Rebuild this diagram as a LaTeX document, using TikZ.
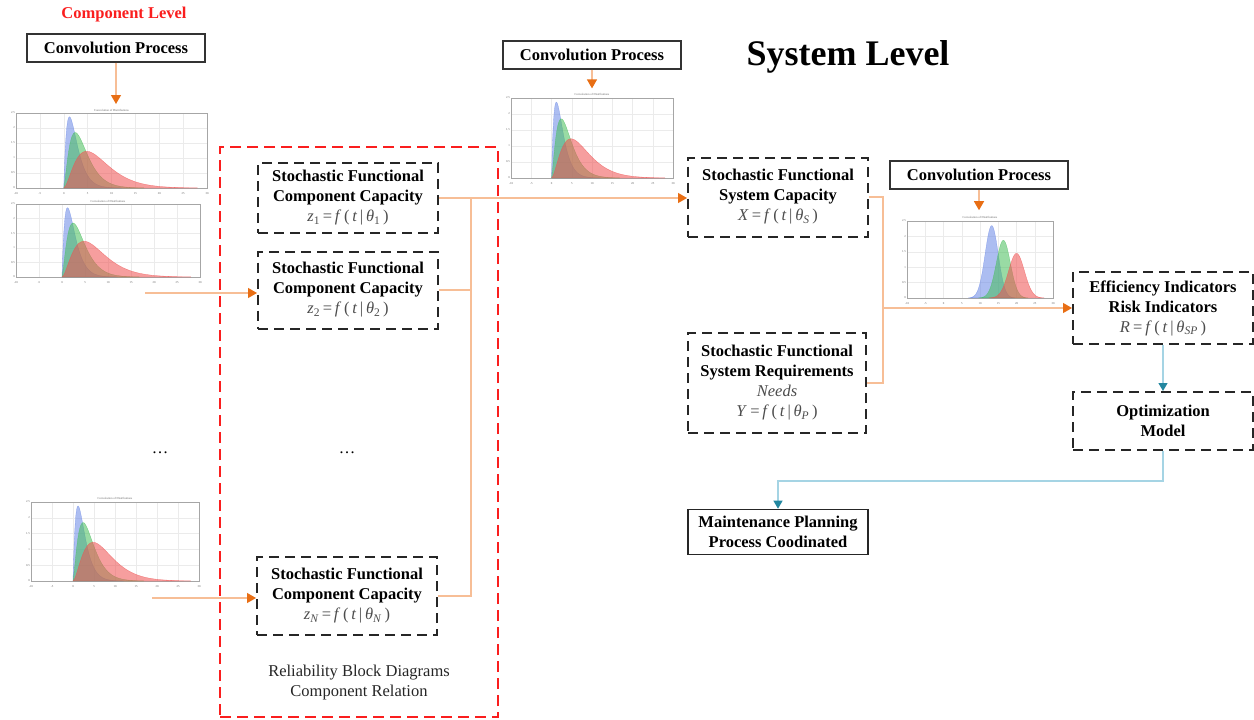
\documentclass[tikz,border=0pt]{standalone}
\usepackage{fontspec}
\setmainfont{Liberation Serif}
\usetikzlibrary{positioning, arrows.meta}
\definecolor{feedline}{RGB}{247,190,150}
\definecolor{feedtip}{RGB}{232,110,20}
\definecolor{planline}{RGB}{165,212,228}
\definecolor{plantip}{RGB}{35,135,160}
\definecolor{levelred}{RGB}{250,30,30}
\definecolor{bluecurve}{RGB}{105,135,230}
\definecolor{greencurve}{RGB}{70,190,90}
\definecolor{redcurve}{RGB}{240,80,80}
\tikzstyle{conv-box} = [draw=black!80, line width=1.6pt, minimum width=178pt, minimum height=28pt, inner sep=2pt, font=\bfseries]
\tikzstyle{sf-box} = [draw=black!85, line width=2pt, dash pattern=on 10pt off 6pt, minimum width=180pt, align=center, inner sep=3pt]
\tikzstyle{end-box} = [draw=black!85, line width=1.6pt, minimum width=180pt, minimum height=45pt, align=center, font=\bfseries]
\tikzstyle{rbd-frame} = [draw=levelred, line width=2pt, dash pattern=on 11pt off 6pt, minimum width=278pt, minimum height=570pt]
\tikzstyle{feed} = [draw=feedline, line width=1.2pt]
\tikzstyle{feed-arrow} = [feed, -{Triangle[length=9pt, width=10pt, color=feedtip]}]
\tikzstyle{plan-arrow} = [draw=planline, line width=1.2pt, -{Triangle[length=8pt, width=9pt, color=plantip]}]
\tikzstyle{curve} = [fill opacity=0.55, draw opacity=0.7, line width=0.3pt]
\tikzstyle{plot-text} = [font=\fontsize{3}{3}\selectfont, inner sep=1pt, text=black!60]
\newcommand{\fnof}[3]{\textcolor{black!70}{\textit{#1}\textsubscript{#2}\,=\,\textit{f}\,(\,\textit{t}\,|\,\textit{θ}\textsubscript{#3}\,)}}
\newcommand{\plotframe}{%
    \fill[white] (0,0) rectangle (1,1);
    \draw[black!8, line width=0.4pt] \foreach \i in {1,...,7} {(\i/8,0) -- (\i/8,1)}
        \foreach \j in {1,...,4} {(0,\j/5) -- (1,\j/5)};
    \draw[black!35, line width=0.4pt] (0,0) rectangle (1,1);
    \node[plot-text] at (0.5,-0.04) {Convolution of Distributions};
    \foreach \lab [count=\i from 0] in {-10,-5,0,5,10,15,20,25,30}
        \node[plot-text] at (\i/8,1.07) {\lab};
    \foreach \lab [count=\j from 0] in {0,0.5,1,1.5,2,2.5}
        \node[plot-text, anchor=east] at (0,1-\j/5) {\lab};
}
\newcommand{\convplot}[5]{%
    \begin{scope}[shift={(#2,#3)}, xscale=#4, yscale=#5]
    \plotframe
    \filldraw[bluecurve, curve] (0.25,1) -- plot[domain=0.0005:0.3, samples=60, smooth]
        ({0.25+\x}, {1-0.95*(\x/0.03)*exp(1-\x/0.03)}) -- (0.55,1) -- cycle;
    \filldraw[greencurve, curve] (0.25,1) -- plot[domain=0.0005:0.42, samples=60, smooth]
        ({0.25+\x}, {1-0.74*pow(\x/0.06,1.5)*exp(1.5*(1-\x/0.06))}) -- (0.67,1) -- cycle;
    \filldraw[redcurve, curve] (0.25,1) -- plot[domain=0.0005:0.7, samples=70, smooth]
        ({0.25+\x}, {1-0.49*pow(\x/0.12,1.8)*exp(1.8*(1-\x/0.12))}) -- (0.95,1) -- cycle;
    \coordinate (#1-top) at (0.5,-0.12);
    \end{scope}
}
\newcommand{\normplot}[5]{%
    \begin{scope}[shift={(#2,#3)}, xscale=#4, yscale=#5]
    \plotframe
    \filldraw[bluecurve, curve] plot[domain=0.42:0.74, samples=60, smooth]
        (\x, {1-0.94*exp(-0.5*((\x-0.58)/0.045)^2)}) -- cycle;
    \filldraw[greencurve, curve] plot[domain=0.49:0.83, samples=60, smooth]
        (\x, {1-0.75*exp(-0.5*((\x-0.66)/0.048)^2)}) -- cycle;
    \filldraw[redcurve, curve] plot[domain=0.56:0.94, samples=60, smooth]
        (\x, {1-0.58*exp(-0.5*((\x-0.75)/0.054)^2)}) -- cycle;
    \coordinate (#1-top) at (0.5,-0.14);
    \end{scope}
}

\begin{document}
\begin{tikzpicture}[x=1pt, y=-1pt, node font=\fontsize{16.5}{20}\selectfont]
\useasboundingbox (0,0) rectangle (1254,720);

% Component level
\node (comp-level) [font=\bfseries, text=levelred] at (124,15) {Component Level};
\node (conv-comp) [conv-box] at (116,48) {Convolution Process};

\convplot{plot-a}{16}{113}{191}{75}
\convplot{plot-b}{16}{204}{184}{73}
\convplot{plot-n}{31}{502}{168}{79}

\draw[feed-arrow] (conv-comp) -- (conv-comp |- plot-a-top);

\node (rbd) [rbd-frame] at (359,432) {};
\node (rbd-label) [align=center, text=black!85] at (359,683) {Reliability Block Diagrams\\Component Relation};

\node (cap-1) [sf-box, minimum height=70pt] at (348,198)
    {\textbf{Stochastic Functional}\\\textbf{Component Capacity}\\\fnof{z}{1}{1}};
\node (cap-2) [sf-box, minimum height=77pt] at (348,290)
    {\textbf{Stochastic Functional}\\\textbf{Component Capacity}\\\fnof{z}{2}{2}};
\node (cap-n) [sf-box, minimum height=78pt] at (347,596)
    {\textbf{Stochastic Functional}\\\textbf{Component Capacity}\\\fnof{z}{\textit{N}}{\textit{N}}};

\node (dots-plot) at (160,453) {\dots};
\node (dots-cap) at (347,453) {\dots};

% Component arrows
\coordinate (plot-b-out) at (145,293);
\coordinate (plot-n-out) at (152,598);
\draw[feed-arrow] (plot-b-out) -- (plot-b-out -| cap-2.west);
\draw[feed-arrow] (plot-n-out) -- (plot-n-out -| cap-n.west);

% System level
\node (sys-level) [font=\bfseries\fontsize{36}{40}\selectfont] at (848,57) {System Level};
\node (conv-sys) [conv-box] at (592,55) {Convolution Process};
\convplot{plot-sys}{511}{98}{162}{80}
\draw[feed-arrow] (conv-sys) -- (conv-sys |- plot-sys-top);

\node (sys-cap) [sf-box, minimum height=79pt] at (778,197)
    {\textbf{Stochastic Functional}\\\textbf{System Capacity}\\\fnof{X}{}{\textit{S}}};
\node (sys-req) [sf-box, minimum height=100pt, minimum width=178pt] at (777,383)
    {\textbf{Stochastic Functional}\\\textbf{System Requirements}\\\textcolor{black!70}{\textit{Needs}}\\\fnof{Y}{}{\textit{P}}};

\node (conv-out) [conv-box] at (979,175) {Convolution Process};
\normplot{plot-out}{907}{221}{146}{77}
\draw[feed-arrow] (conv-out) -- (conv-out |- plot-out-top);

\node (indicators) [sf-box, minimum height=72pt] at (1163,308)
    {\textbf{Efficiency Indicators}\\\textbf{Risk Indicators}\\\fnof{R}{}{\textit{SP}}};
\node (optim) [sf-box, minimum height=58pt, below=46pt of indicators]
    {\textbf{Optimization}\\\textbf{Model}};
\node (maint) [end-box] at (778,532) {Maintenance Planning\\Process Coodinated};

% Capacity to system arrows
\coordinate (bus-a) at (471,198);
\draw[feed-arrow] (cap-1.east) -- (cap-1.east -| sys-cap.west);
\draw[feed] (cap-2.east) -| (bus-a);
\draw[feed] (cap-n.east) -| (bus-a);

% System to indicators
\coordinate (bus-b) at (883,308);
\draw[feed] (sys-cap.east) -| (bus-b);
\draw[feed] (sys-req.east) -| (bus-b);
\draw[feed-arrow] (bus-b) -- (bus-b -| indicators.west);

% Planning arrows
\draw[plan-arrow] (indicators) -- (optim);
\draw[plan-arrow] (optim.south) -- ++(0,30) -| (maint.north);

\end{tikzpicture}
\end{document}
